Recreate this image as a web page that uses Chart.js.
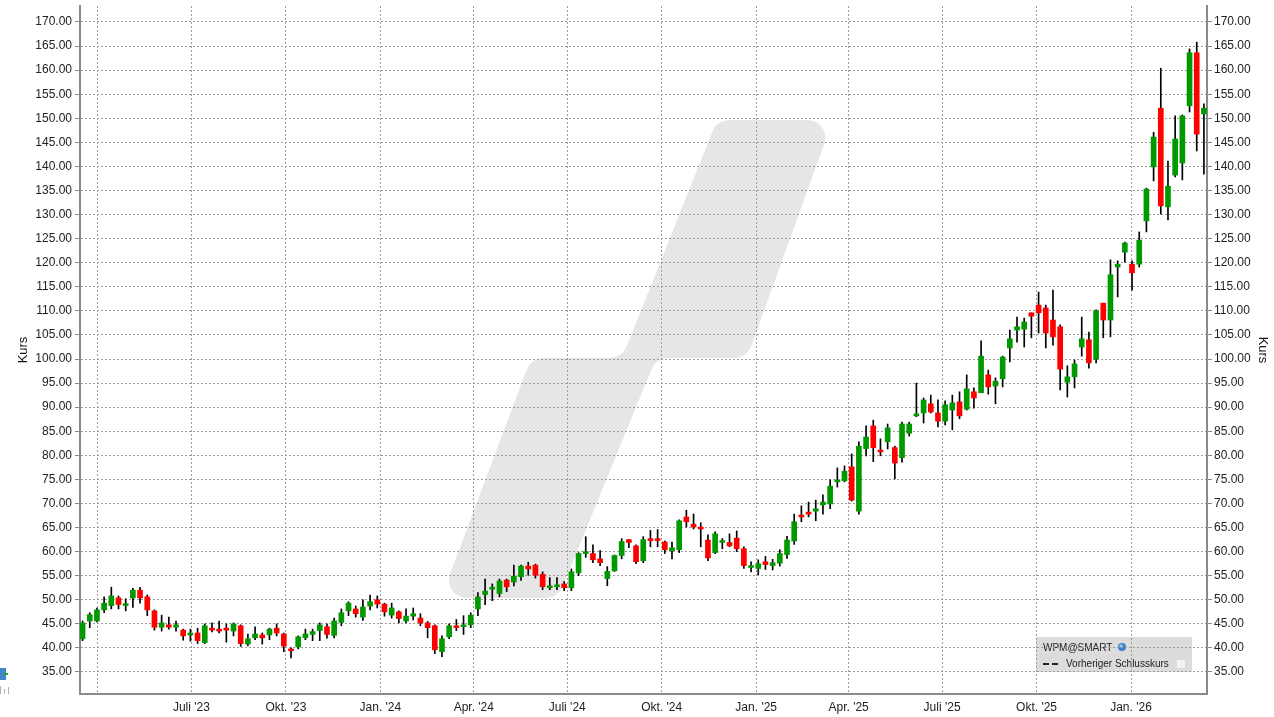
<!DOCTYPE html>
<html>
<head>
<meta charset="utf-8">
<script src="https://cdn.jsdelivr.net/npm/chart.js@4.4.0/dist/chart.umd.min.js"></script>
<style>
  html, body { margin: 0; padding: 0; background: #fff; }
  #wrap { width: 1274px; height: 717px; }
</style>
</head>
<body>
<div id="wrap"><canvas id="chart" width="1274" height="717"></canvas></div>
<script>
// Wochenkerzen WPM@SMART, eine Kerze pro Woche (Freitag)
const firstWeek = "2023-03-17";

const open = [
  41.9, 45.6, 45.6, 47.9, 48.8, 50.4, 48.8, 50.4, 52.0, 50.6,
  47.7, 44.3, 44.8, 44.3, 43.7, 42.7, 43.1, 41.1, 44.1, 43.9,
  44.1, 43.5, 44.6, 40.8, 42.1, 42.7, 42.7, 44.1, 42.9, 39.8,
  40.2, 42.1, 42.8, 43.6, 44.4, 42.6, 45.3, 47.7, 48.1, 46.4,
  48.7, 50.0, 49.1, 46.8, 47.5, 45.6, 46.6, 46.2, 45.2, 44.6,
  39.2, 42.3, 44.6, 44.4, 44.8, 48.1, 51.1, 52.2, 51.3, 54.1,
  53.7, 54.8, 57.0, 57.2, 55.3, 52.5, 52.7, 53.3, 52.5, 55.6,
  59.6, 59.6, 58.5, 54.4, 56.0, 59.2, 62.5, 61.2, 58.1, 62.7,
  62.7, 62.0, 60.2, 60.4, 67.2, 65.7, 65.1, 62.4, 59.8, 61.9,
  61.9, 62.8, 60.6, 56.7, 56.5, 57.9, 57.1, 57.6, 59.4, 62.2,
  67.6, 68.2, 68.4, 69.7, 69.9, 74.5, 74.7, 77.6, 68.4, 81.4,
  86.1, 81.1, 82.8, 81.6, 79.5, 84.6, 88.2, 88.8, 90.7, 88.8,
  87.1, 89.4, 91.1, 89.6, 93.2, 93.0, 96.7, 94.4, 95.9, 102.3,
  106.0, 106.2, 109.6, 111.2, 110.6, 108.1, 106.7, 95.2, 96.3, 102.5,
  104.0, 100.0, 111.6, 108.1, 119.1, 122.2, 119.7, 119.7, 128.7, 139.9,
  152.1, 131.6, 138.2, 140.7, 152.6, 163.6, 150.9
];
const high = [
  45.6, 47.3, 48.3, 50.6, 52.6, 50.8, 50.2, 52.4, 52.6, 51.0,
  47.9, 46.8, 46.4, 45.6, 43.9, 43.9, 44.1, 45.0, 45.2, 45.6,
  45.0, 45.2, 44.8, 42.9, 44.4, 43.1, 44.1, 45.0, 43.1, 40.0,
  42.5, 43.9, 43.9, 45.2, 45.0, 46.2, 48.1, 49.6, 48.7, 50.0,
  51.0, 50.8, 49.3, 49.3, 47.7, 48.1, 48.3, 47.1, 45.5, 44.8,
  42.5, 45.0, 45.9, 46.7, 47.3, 51.5, 54.3, 53.3, 54.3, 54.3,
  57.2, 57.2, 57.8, 57.4, 55.8, 54.6, 54.6, 53.8, 56.4, 59.8,
  63.1, 61.4, 60.2, 56.9, 59.3, 62.7, 62.5, 61.4, 63.1, 64.4,
  64.6, 62.2, 62.0, 66.6, 68.6, 67.8, 66.0, 63.5, 64.1, 62.7,
  63.7, 64.3, 61.0, 57.9, 58.3, 59.0, 58.4, 60.4, 63.2, 67.8,
  69.5, 70.3, 70.7, 71.8, 74.9, 77.4, 77.8, 80.3, 82.8, 86.1,
  87.3, 83.4, 86.5, 81.9, 86.9, 86.9, 95.0, 91.9, 92.5, 91.5,
  91.3, 92.5, 93.2, 96.7, 94.0, 103.8, 97.7, 96.1, 100.6, 106.0,
  108.7, 108.5, 109.6, 113.9, 111.2, 114.3, 107.1, 98.6, 99.8, 108.7,
  105.6, 110.2, 111.6, 120.6, 120.4, 124.3, 120.4, 126.4, 135.5, 147.1,
  160.4, 141.1, 150.5, 150.7, 164.4, 165.8, 153.0
];
const low = [
  41.5, 44.2, 45.4, 47.3, 48.1, 48.1, 47.7, 48.4, 49.3, 46.7,
  43.7, 43.5, 43.9, 43.5, 41.6, 41.4, 40.9, 40.9, 43.3, 43.1,
  41.2, 42.5, 40.3, 40.4, 41.7, 40.8, 41.7, 42.5, 39.2, 37.9,
  39.8, 41.7, 41.5, 41.5, 42.0, 42.1, 44.6, 46.7, 46.4, 45.7,
  47.9, 48.3, 46.6, 46.2, 45.2, 45.2, 45.8, 44.6, 42.1, 38.8,
  38.2, 41.9, 43.6, 42.8, 44.2, 46.7, 49.0, 49.8, 50.6, 51.7,
  52.9, 54.0, 55.1, 54.5, 52.1, 52.1, 52.1, 51.9, 51.9, 55.0,
  58.8, 57.7, 57.1, 52.9, 55.9, 58.5, 60.8, 57.5, 57.7, 61.0,
  61.0, 59.6, 58.5, 59.8, 65.1, 64.7, 61.0, 58.1, 59.6, 60.6,
  61.0, 60.0, 56.5, 55.8, 55.2, 56.3, 56.2, 57.0, 58.6, 61.5,
  66.2, 67.2, 66.4, 67.8, 68.9, 73.4, 74.5, 70.5, 67.8, 79.9,
  78.7, 79.9, 81.3, 75.1, 78.6, 84.0, 88.0, 86.7, 88.8, 85.9,
  86.3, 85.3, 87.6, 89.4, 89.8, 93.0, 92.7, 90.7, 94.2, 99.4,
  103.5, 102.5, 104.4, 105.4, 102.3, 102.9, 93.6, 92.1, 94.0, 100.6,
  98.1, 99.2, 104.4, 104.6, 112.9, 120.1, 114.3, 119.1, 126.4, 137.0,
  130.1, 128.9, 137.8, 137.2, 151.3, 143.2, 138.4
];
const close = [
  45.2, 46.9, 47.9, 49.3, 50.8, 49.0, 49.2, 52.0, 50.4, 47.9,
  44.3, 45.2, 44.3, 44.8, 42.5, 43.1, 41.5, 44.6, 43.7, 43.5,
  43.7, 45.0, 40.9, 41.9, 42.9, 42.1, 43.9, 43.1, 40.4, 39.4,
  42.3, 42.9, 43.4, 44.8, 42.8, 45.6, 47.3, 49.3, 47.1, 48.5,
  49.6, 49.1, 47.5, 48.3, 46.1, 46.6, 47.1, 45.2, 44.2, 39.6,
  41.9, 44.6, 44.2, 44.8, 46.8, 50.6, 51.8, 52.6, 53.9, 52.7,
  54.9, 57.0, 56.4, 55.1, 52.7, 52.9, 53.1, 52.5, 55.8, 59.6,
  60.0, 58.3, 57.7, 55.9, 59.2, 62.1, 61.9, 57.9, 62.5, 62.3,
  62.3, 60.4, 60.8, 66.4, 66.2, 65.1, 64.7, 58.7, 63.7, 62.3,
  61.2, 60.6, 57.1, 57.1, 57.5, 57.3, 57.7, 59.6, 62.4, 66.2,
  67.2, 67.8, 68.9, 70.3, 73.6, 74.9, 76.7, 70.7, 81.9, 83.8,
  81.6, 80.7, 85.7, 78.4, 86.5, 86.5, 88.6, 91.5, 89.0, 87.1,
  90.5, 90.9, 88.2, 93.8, 91.9, 100.6, 94.2, 95.4, 100.4, 104.2,
  106.7, 107.7, 108.9, 109.6, 105.4, 104.6, 97.9, 96.3, 99.0, 104.2,
  99.2, 110.0, 108.1, 117.5, 119.7, 124.1, 117.9, 124.7, 135.3, 146.1,
  131.8, 135.9, 145.7, 150.5, 163.6, 146.7, 152.1
];

// Quartalsanfänge für die X-Achse
const quarterDates = ["2023-04-01", "2023-07-01", "2023-10-01", "2024-01-01", "2024-04-01", "2024-07-01",
  "2024-10-01", "2025-01-01", "2025-04-01", "2025-07-01", "2025-10-01", "2026-01-01"];
const quarterLabels = ["", "Juli '23", "Okt. '23", "Jan. '24", "Apr. '24", "Juli '24",
  "Okt. '24", "Jan. '25", "Apr. '25", "Juli '25", "Okt. '25", "Jan. '26"];
const yTicks = [];
for (let v = 35; v <= 170; v += 5) yTicks.push(v);

const FONT = '"Liberation Sans", Arial, sans-serif';

function dayOf(s) {
    const p = s.split("-").map(Number);
    return (Date.UTC(p[0], p[1] - 1, p[2]) - Date.UTC(2023, 3, 1)) / 86400000;
}

const days = open.map((_, i) => dayOf(firstWeek) + 7 * i);
const quarterDays = quarterDates.map(dayOf);
const bodyData = days.map((d, i) => ({ x: d, y: [open[i], close[i]] }));
const wickData = days.map((d, i) => ({ x: d, y: [low[i], high[i]] }));
const bodyColors = open.map((o, i) => close[i] >= o ? "#009a00" : "#ff0000");

function roundedPoly(c, pts, r) {
    const n = pts.length;
    const a = pts[n - 1], b = pts[0];
    c.beginPath();
    c.moveTo((a[0] + b[0]) / 2, (a[1] + b[1]) / 2);
    for (let i = 0; i < n; i++) {
        const p = pts[i], q = pts[(i + 1) % n];
        c.arcTo(p[0], p[1], q[0], q[1], r);
    }
    c.closePath();
}

// Hintergrund: Wasserzeichen, Legende, kleine Symbole
const backdrop = {
    id: "backdrop",
    beforeDraw(chart) {
        const c = chart.ctx;
        c.save();
        c.fillStyle = "#ffffff";
        c.fillRect(0, 0, chart.width, chart.height);

        c.fillStyle = "#e6e6e6";
        roundedPoly(c, [[441, 598], [531, 358], [622, 358], [717, 120], [833, 120], [747, 358], [656, 358], [558, 598]], 18);
        c.fill();

        c.fillStyle = "#dcdcdc";
        c.fillRect(1036, 637, 156, 35);
        c.fillStyle = "#222";
        c.font = "10px " + FONT;
        c.textBaseline = "middle";
        c.fillText("WPM@SMART", 1043, 648);
        c.fillStyle = "#3d7fc9";
        c.beginPath();
        c.arc(1122, 647, 4, 0, Math.PI * 2);
        c.fill();
        c.fillStyle = "#9fc4ea";
        c.beginPath();
        c.arc(1121, 646, 1.8, 0, Math.PI * 2);
        c.fill();

        c.strokeStyle = "#222";
        c.lineWidth = 2;
        c.setLineDash([6, 3]);
        c.beginPath();
        c.moveTo(1043, 664);
        c.lineTo(1060, 664);
        c.stroke();
        c.setLineDash([]);
        c.fillStyle = "#222";
        c.font = "10px " + FONT;
        c.fillText("Vorheriger Schlusskurs", 1066, 664);
        c.fillStyle = "#f4f4f4";
        c.fillRect(1177, 660, 8, 8);

        c.fillStyle = "#3f86cc";
        c.fillRect(0, 668, 6, 12);
        c.fillStyle = "#2aa02a";
        c.fillRect(4, 673, 4, 2);
        c.fillStyle = "#b0b0b0";
        c.fillRect(0, 686, 1, 8);
        c.fillRect(4, 689, 1, 5);
        c.fillRect(8, 687, 1, 7);
        c.restore();
    }
};

const yBase = {
    min: 30.43,
    max: 173.32,
    afterBuildTicks: s => { s.ticks = yTicks.map(v => ({ value: v })); },
    ticks: { font: { family: FONT, size: 12 }, color: "#222", padding: 3, callback: v => v.toFixed(2) },
    border: { display: true, color: "#8a8a8a", width: 2, dash: [2, 2] },
    title: { display: true, text: "Kurs", color: "#111", font: { family: FONT, size: 13 } }
};

new Chart(document.getElementById("chart"), {
    type: "bar",
    data: {
        datasets: [
            {
                label: "Kerze",
                data: bodyData,
                backgroundColor: bodyColors,
                borderWidth: 0,
                barThickness: 5,
                minBarLength: 1,
                grouped: false
            },
            {
                label: "Docht",
                data: wickData,
                backgroundColor: "#000000",
                borderWidth: 0,
                barThickness: 1,
                grouped: false
            }
        ]
    },
    options: {
        responsive: false,
        animation: false,
        events: [],
        layout: { padding: { top: 6 } },
        plugins: { legend: { display: false }, tooltip: { enabled: false } },
        scales: {
            x: {
                type: "linear",
                min: -17.5,
                max: 1080,
                offset: false,
                afterBuildTicks: s => { s.ticks = quarterDays.map(v => ({ value: v })); },
                afterFit: s => { s.height = 23; s.paddingLeft = 0; s.paddingRight = 0; },
                grid: { offset: false, color: "#9c9c9c", drawTicks: false },
                border: { display: true, color: "#8a8a8a", width: 2, dash: [2, 2] },
                ticks: {
                    autoSkip: false,
                    maxRotation: 0,
                    padding: 6,
                    color: "#222",
                    font: { family: FONT, size: 12 },
                    callback: v => quarterLabels[quarterDays.indexOf(v)] || ""
                }
            },
            y: Object.assign({}, yBase, {
                position: "left",
                afterFit: s => { s.width = 80; s.paddingTop = 0; s.paddingBottom = 0; },
                grid: { color: "#9c9c9c", tickLength: 5, tickColor: "#8a8a8a" },
                title: Object.assign({}, yBase.title, { padding: { top: 16, bottom: 0 } })
            }),
            y2: Object.assign({}, yBase, {
                position: "right",
                afterFit: s => { s.width = 67; s.paddingTop = 0; s.paddingBottom = 0; },
                grid: { drawOnChartArea: false, tickLength: 5, tickColor: "#8a8a8a" },
                ticks: Object.assign({}, yBase.ticks, { padding: 2 }),
                title: Object.assign({}, yBase.title, { padding: { top: 4, bottom: 0 } })
            })
        }
    },
    plugins: [backdrop]
});
</script>
</body>
</html>
